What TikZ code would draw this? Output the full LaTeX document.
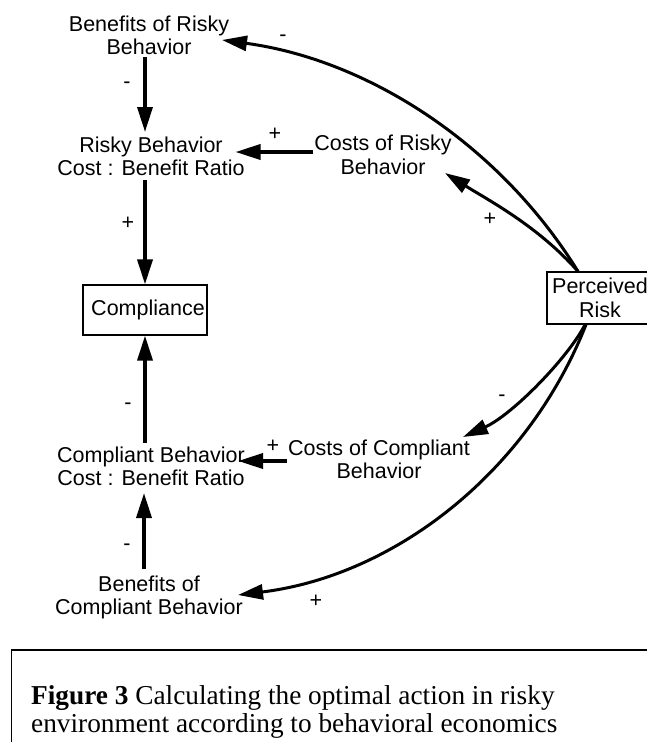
\documentclass[tikz,border=0pt]{standalone}
\usepackage{fontspec}
\setmainfont{Liberation Serif}
\setsansfont{Liberation Sans}
\usetikzlibrary{arrows.meta,calc}
\begin{document}
\begin{tikzpicture}[x=1pt,y=-1pt,
  var/.style={font=\sffamily\fontsize{21.5}{23.5}\selectfont, align=center, inner sep=0pt},
  boxvar/.style={draw, line width=1.2pt, font=\sffamily\fontsize{21.5}{23.5}\selectfont, align=center, inner sep=0pt},
  sign/.style={font=\sffamily\fontsize{21.5}{23.5}\selectfont, anchor=base, inner sep=0pt},
  link/.style={line width=3.5pt, -{Triangle[length=25pt,width=15pt]}},
  curvelink/.style={line width=3pt, -{Triangle[length=25pt,width=15pt]}}
]
\useasboundingbox (0,0) rectangle (647,742);

% variables
\node[var] (bor) at (149,35.5) {Benefits of Risky\\Behavior};
\node[var] (rbr) at (151,156.5) {Risky Behavior\\Cost : Benefit Ratio};
\node[var] (crb) at (383,155) {Costs of Risky\\Behavior};
\node[boxvar, minimum width=124pt, minimum height=50pt] (comp) at (145,310) {\hspace*{6pt}Compliance};
\node[boxvar, minimum width=106pt, minimum height=52pt] (pr) at (600,298) {Perceived\\Risk};
\node[var] (cbr) at (151,466.5) {Compliant Behavior\\Cost : Benefit Ratio};
\node[var] (ccb) at (379,459.5) {Costs of Compliant\\Behavior};
\node[var] (bcb) at (149,597.5) {Benefits of\\Compliant Behavior};

% straight links
\draw[link] ($(bor.center)+(-4,21.5)$) -- ($(rbr.center)+(-6,-24.5)$);
\draw[link] ($(crb.center)+(-70,-3)$) -- ($(rbr.center)+(84.5,-4.5)$);
\draw[link] ($(rbr.center)+(-6,23.5)$) -- (comp.north);
\draw[link] ($(cbr.center)+(-6,-23.5)$) -- (comp.south);
\draw[link] ($(ccb.center)+(-92,1.5)$) -- ($(cbr.center)+(87,-5.5)$);
\draw[link] ($(bcb.center)+(-5,-28.5)$) -- ($(cbr.center)+(-7,26.5)$);

% curved links from perceived risk
\draw[curvelink] ($(pr.north)+(-22,0)$) .. controls (500,145) and (369,60) .. ($(bor.center)+(73,4.5)$);
\draw[curvelink] ($(pr.north)+(-22,0)$) .. controls (538,226) and (488,200) .. ($(crb.center)+(62,18)$);
\draw[curvelink] ($(pr.south)+(-15,0)$) .. controls (568,358) and (512,415) .. ($(ccb.center)+(84,-22.5)$);
\draw[curvelink] ($(pr.south)+(-14,0)$) .. controls (528,472) and (395,575.5) .. ($(bcb.center)+(89,-2.5)$);

% polarities
\node[sign] (s1) at (127,88) {-};
\node[sign] (s2) at (275,140) {+};
\node[sign] (s3) at (128,229) {+};
\node[sign] (s4) at (128,409) {-};
\node[sign] (s5) at (273,452) {+};
\node[sign] (s6) at (127,550) {-};
\node[sign] (s7) at (283,41) {-};
\node[sign] (s8) at (490,225) {+};
\node[sign] (s9) at (502,401) {-};
\node[sign] (s10) at (316,607) {+};

% caption frame
\draw[line width=1.5pt] (11.6,760) |- (660,650);
\node[anchor=west, align=left, inner sep=0pt, font=\fontsize{27.3}{28}\selectfont] (cap) at (31,711.5)
  {\textbf{Figure 3} Calculating the optimal action in risky\\environment according to behavioral economics};
\end{tikzpicture}
\end{document}
